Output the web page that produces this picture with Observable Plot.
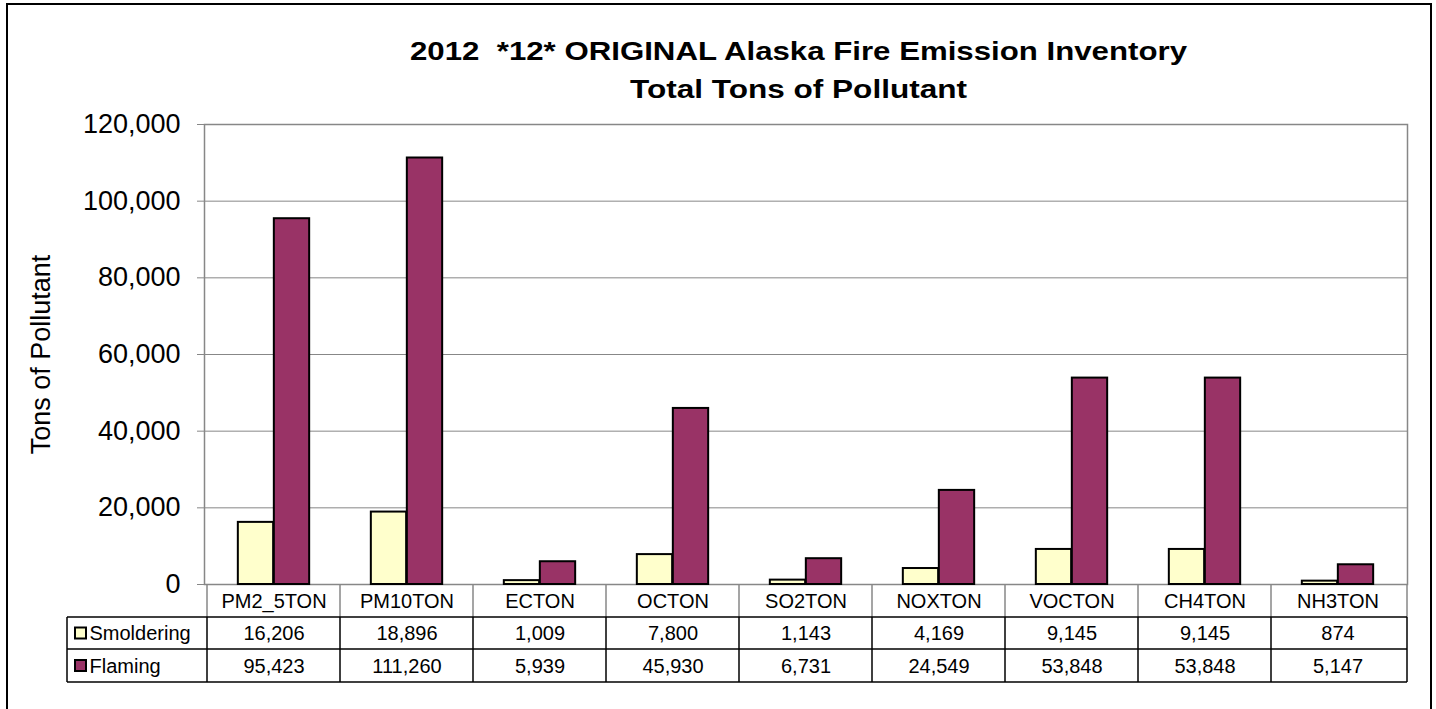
<!DOCTYPE html>
<html><head><meta charset="utf-8">
<script src="https://cdn.jsdelivr.net/npm/d3@7"></script>
<script src="https://cdn.jsdelivr.net/npm/@observablehq/plot@0.6"></script>
<style>
body{margin:0;background:#fff;}
#wrap{position:relative;width:1436px;height:709px;overflow:hidden;font-family:Arial,"Liberation Sans",sans-serif;}
#border{position:absolute;left:6px;top:3px;width:1426px;height:720px;border:2px solid #000;box-sizing:border-box;}
#chart{position:absolute;left:0;top:0;}
svg text{white-space:pre;}
</style></head><body>
<div id="wrap"><div id="border"></div><div id="chart"></div></div>
<script>
const categories = ["PM2_5TON","PM10TON","ECTON","OCTON","SO2TON","NOXTON","VOCTON","CH4TON","NH3TON"];
const smoldering = [16206,18896,1009,7800,1143,4169,9145,9145,874];
const flaming = [95423,111260,5939,45930,6731,24549,53848,53848,5147];
const seriesNames = ["Smoldering","Flaming"];
const seriesColors = ["#FFFFCC","#993366"];
const yTicks = [0,20000,40000,60000,80000,100000,120000];
const titleLines = ["2012  *12* ORIGINAL Alaska Fire Emission Inventory","Total Tons of Pollutant"];
const yLabel = "Tons of Pollutant";

const rows = categories.map((c,i)=>({cat:c, smoldering:smoldering[i], flaming:flaming[i]}));
const fmt = d3.format(",");
const W = 1436, H = 709;
const mL = 204, mR = 29, mT = 124, mB = 125;
const band = (W - mL - mR) / categories.length;
const barW = 36;
const side = (band - 2*barW)/2;
const FONT = "Arial, 'Liberation Sans', sans-serif";

const plot = Plot.plot({
  width: W, height: H,
  marginLeft: mL, marginRight: mR, marginTop: mT, marginBottom: mB,
  style: {fontFamily: FONT, background: "transparent", color: "#000"},
  x: {type: "band", domain: categories, padding: 0, axis: null},
  y: {domain: [0,120000], axis: null},
  marks: [
    Plot.gridY(yTicks, {stroke: "#878787", strokeOpacity: 1, strokeWidth: 1}),
    Plot.frame({stroke: "#878787", strokeWidth: 1.5}),
    Plot.axisY(yTicks, {tickFormat: fmt, fontSize: 27, tickSize: 7, tickPadding: 17, stroke: "#878787", strokeOpacity: 1, fill: "#000", label: null}),
    Plot.barY(rows, {x: "cat", y: "smoldering", fill: seriesColors[0], stroke: "#000", strokeWidth: 2, insetLeft: side, insetRight: side + barW}),
    Plot.barY(rows, {x: "cat", y: "flaming", fill: seriesColors[1], stroke: "#000", strokeWidth: 2, insetLeft: side + barW, insetRight: side}),
    Plot.text(rows, {x: "cat", text: "cat", frameAnchor: "bottom", lineAnchor: "middle", dy: 17, fontSize: 20, fill: "#000"}),
    Plot.text(rows, {x: "cat", text: d => fmt(d.smoldering), frameAnchor: "bottom", lineAnchor: "middle", dy: 49.5, fontSize: 20, fill: "#000"}),
    Plot.text(rows, {x: "cat", text: d => fmt(d.flaming), frameAnchor: "bottom", lineAnchor: "middle", dy: 82, fontSize: 20, fill: "#000"}),
    Plot.text([seriesNames[0]], {text: d => d, frameAnchor: "bottom-left", lineAnchor: "middle", dx: 89 - mL, dy: 49.5, textAnchor: "start", fontSize: 20, fill: "#000"}),
    Plot.text([seriesNames[1]], {text: d => d, frameAnchor: "bottom-left", lineAnchor: "middle", dx: 89 - mL, dy: 82, textAnchor: "start", fontSize: 20, fill: "#000"}),
    Plot.text([yLabel], {text: d => d, frameAnchor: "left", textAnchor: "middle", lineAnchor: "middle", dx: 41 - mL, rotate: -90, fontSize: 27, fill: "#000"})
  ]
});
document.getElementById("chart").appendChild(plot);

const svg = d3.select(plot);
const xs = plot.scale("x");
const yBase = H - mB;
const r1 = 617, r2 = 649, r3 = 682, legL = 67, right = W - mR;
const g = svg.append("g");
// vertical lines
const vx = categories.map(c => xs.apply(c)).concat([right]);
vx.forEach(x => {
  g.append("line").attr("x1", x).attr("x2", x).attr("y1", yBase).attr("y2", r1).attr("stroke", "#878787").attr("stroke-width", 1.5);
  g.append("line").attr("x1", x).attr("x2", x).attr("y1", r1).attr("y2", r3).attr("stroke", "#000").attr("stroke-width", 1.5);
});
g.append("line").attr("x1", legL).attr("x2", legL).attr("y1", r1).attr("y2", r3).attr("stroke", "#000").attr("stroke-width", 1.5);
[r1, r2, r3].forEach(y => g.append("line").attr("x1", legL).attr("x2", right).attr("y1", y).attr("y2", y).attr("stroke", "#000").attr("stroke-width", 1.5));
// legend keys
[[r1, r2], [r2, r3]].forEach(([a, b], i) => {
  const cy = (a + b) / 2;
  g.append("rect").attr("x", 75).attr("y", cy - 5.5).attr("width", 11).attr("height", 11)
    .attr("fill", seriesColors[i]).attr("stroke", "#000").attr("stroke-width", 2);
});
// title
const tl = [[798.5, 60, 777], [798.5, 98, 337]];
titleLines.forEach((t, i) => {
  svg.append("text").attr("x", tl[i][0]).attr("y", tl[i][1]).attr("font-size", 25).attr("font-weight", "bold")
    .attr("text-anchor", "middle")
    .attr("font-family", FONT).attr("fill", "#000").attr("textLength", tl[i][2]).attr("lengthAdjust", "spacingAndGlyphs")
    .style("white-space", "pre").text(t);
});
</script>
</body></html>
